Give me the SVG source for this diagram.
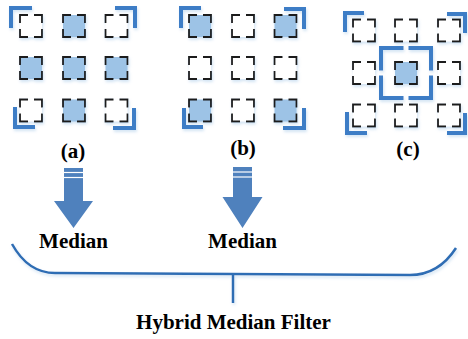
<svg xmlns="http://www.w3.org/2000/svg" width="468" height="339" viewBox="0 0 468 339">
  <defs>
    <filter id="glow" x="-20%" y="-20%" width="140%" height="140%">
      <feDropShadow dx="1" dy="2" stdDeviation="1.5" flood-color="#9dc3e6" flood-opacity="0.45"/>
    </filter>
  </defs>
  <style>
    .cell { fill: #ffffff; stroke: #1a1a1a; stroke-width: 1.8; stroke-dasharray: 16 6; stroke-dashoffset: 8; }
    .cell.on { fill: #9dc3e6; }
    .corner { fill: none; stroke: #3c7dc6; stroke-width: 4; stroke-linejoin: miter; }
    .frame { fill: none; stroke: #3c7dc6; stroke-width: 4; stroke-dasharray: 45 5; stroke-dashoffset: 22.5; }
    .arrow { fill: #4f81bd; }
    .stripe { stroke: #ffffff; stroke-width: 1.2; }
    .brace { fill: none; stroke: #2e6db4; stroke-width: 2.5; }
    .label { font-family: "Liberation Serif", "Times New Roman", serif; font-weight: bold; font-size: 21px; fill: #000000; text-anchor: middle; }
  </style>

  <!-- (a): cross-shaped neighbourhood -->
  <g id="grid-a" filter="url(#glow)">
    <rect class="cell" x="20" y="15" width="22" height="22"/>
    <rect class="cell on" x="63" y="15" width="22" height="22"/>
    <rect class="cell" x="105.5" y="15" width="22" height="22"/>
    <rect class="cell on" x="20" y="57" width="22" height="22"/>
    <rect class="cell on" x="63" y="57" width="22" height="22"/>
    <rect class="cell on" x="105.5" y="57" width="22" height="22"/>
    <rect class="cell" x="20" y="99.5" width="22" height="22"/>
    <rect class="cell on" x="63" y="99.5" width="22" height="22"/>
    <rect class="cell" x="105.5" y="99.5" width="22" height="22"/>
    <polyline class="corner" points="11,28 11,8 32,8"/>
    <polyline class="corner" points="115,8 135,8 135,28"/>
    <polyline class="corner" points="15,107 15,127 35,127"/>
    <polyline class="corner" points="113,128 134,128 134,108"/>
  </g>

  <!-- (b): diagonal neighbourhood -->
  <g id="grid-b" filter="url(#glow)">
    <rect class="cell on" x="189" y="15" width="22" height="22"/>
    <rect class="cell" x="232" y="15" width="22" height="22"/>
    <rect class="cell on" x="274.5" y="15" width="22" height="22"/>
    <rect class="cell" x="189" y="57" width="22" height="22"/>
    <rect class="cell" x="232" y="57" width="22" height="22"/>
    <rect class="cell" x="274.5" y="57" width="22" height="22"/>
    <rect class="cell on" x="189" y="99.5" width="22" height="22"/>
    <rect class="cell" x="232" y="99.5" width="22" height="22"/>
    <rect class="cell on" x="274.5" y="99.5" width="22" height="22"/>
    <polyline class="corner" points="181,28 181,8 201,8"/>
    <polyline class="corner" points="284,9 304,9 304,29"/>
    <polyline class="corner" points="184,108 184,127 203,127"/>
    <polyline class="corner" points="283,128 304,128 304,108"/>
  </g>

  <!-- (c): centre pixel -->
  <g id="grid-c" filter="url(#glow)">
    <rect class="cell" x="353" y="19.5" width="22" height="22"/>
    <rect class="cell" x="395" y="19.5" width="22" height="22"/>
    <rect class="cell" x="438" y="19.5" width="22" height="22"/>
    <rect class="cell" x="353" y="62" width="22" height="22"/>
    <rect class="cell on" x="395" y="62" width="22" height="22"/>
    <rect class="cell" x="438" y="62" width="22" height="22"/>
    <rect class="cell" x="353" y="104.5" width="22" height="22"/>
    <rect class="cell" x="395" y="104.5" width="22" height="22"/>
    <rect class="cell" x="438" y="104.5" width="22" height="22"/>
    <rect class="frame" x="381" y="48" width="50" height="50"/>
    <polyline class="corner" points="345,32 345,13 364,13"/>
    <polyline class="corner" points="447,14 465,14 465,33"/>
    <polyline class="corner" points="347,112 347,133 367,133"/>
    <polyline class="corner" points="447,133 465,133 465,113"/>
  </g>

  <g id="label-a"><text class="label" x="73" y="158">(a)</text></g>
  <g id="label-b"><text class="label" x="243" y="155">(b)</text></g>
  <g id="label-c"><text class="label" x="408" y="156">(c)</text></g>

  <!-- down arrows into the median steps -->
  <g id="arrow-a">
    <polygon class="arrow" points="64,168 83,168 83,201 93,201 73.5,228 54,201 64,201"/>
    <line class="stripe" x1="64" y1="172.5" x2="83" y2="172.5"/>
    <line class="stripe" x1="64" y1="177.5" x2="83" y2="177.5"/>
  </g>
  <g id="arrow-b">
    <polygon class="arrow" points="233,167 252,167 252,197 262.5,197 242.5,228 222.5,197 233,197"/>
    <line class="stripe" x1="233" y1="172" x2="252" y2="172"/>
    <line class="stripe" x1="233" y1="177" x2="252" y2="177"/>
  </g>

  <g id="median-a"><text class="label" x="73.5" y="248">Median</text></g>
  <g id="median-b"><text class="label" x="242.5" y="248">Median</text></g>

  <!-- brace joining both medians -->
  <g id="connectors" filter="url(#glow)">
    <path class="brace" d="M12 244 C22 262 35 273 55 273 L410 275 C430 275 445 265 456 248"/>
    <line class="brace" x1="233" y1="274" x2="233" y2="303" stroke-width="3"/>
  </g>

  <g id="hybrid"><text class="label" x="233.5" y="329">Hybrid Median Filter</text></g>
</svg>
